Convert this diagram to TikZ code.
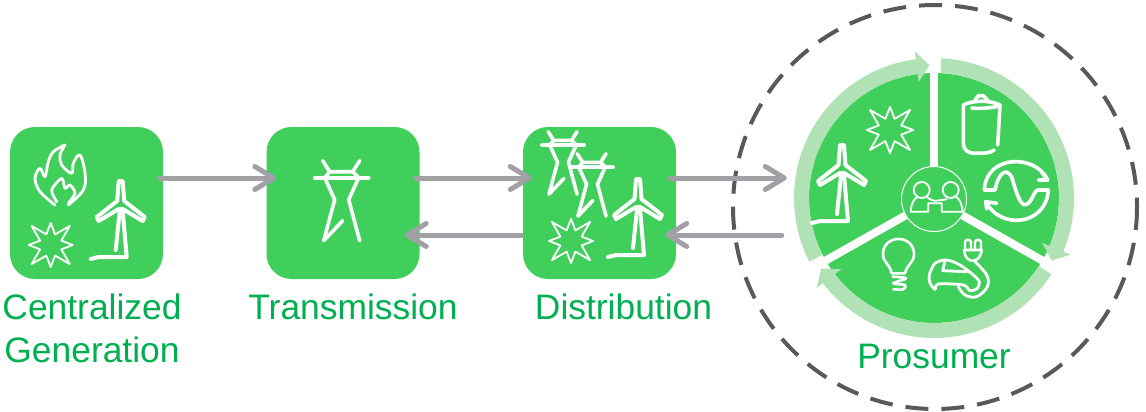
\documentclass[tikz,border=0pt]{standalone}
\usepackage{fontspec}
\setmainfont{Liberation Sans}
\usetikzlibrary{positioning, arrows.meta}
\definecolor{stagegreen}{HTML}{41CF5C}
\definecolor{ringgreen}{HTML}{B0E2B5}
\definecolor{labelgreen}{HTML}{00B050}
\definecolor{flowgray}{HTML}{A0A0A5}
\definecolor{dashgray}{HTML}{595959}
\tikzstyle{stagebox} = [rectangle, rounded corners=25pt, minimum width=153pt, minimum height=152pt, inner sep=0pt, fill=stagegreen]
\tikzstyle{stagelabel} = [text=labelgreen, align=center, inner sep=0pt, font=\fontsize{35.4}{43}\selectfont]
\tikzstyle{flow} = [draw=flowgray, line width=5pt, line cap=round, -{Straight Barb[length=19pt, width=23pt, round]}]
\tikzstyle{iconline} = [draw=white, line width=3.6pt, line cap=round, line join=round]
\tikzstyle{iconthin} = [draw=white, line width=1.8pt, line cap=round, line join=round]
\tikzstyle{spoke} = [draw=white, line width=8pt]
\tikzset{
  declare function={burst(\t)=(mod(\t,2)==1?11.5:(mod(\t,4)==0?22:27));},
  turbine/.pic={
    \draw[iconline, line width=4pt] (-2,-27)--(2,-27)--(3.5,-7)--(24,9)--(22,13)--(2,1)--(-2,1)--(-22,13)--(-24,9)--(-3.5,-7)--cycle;
    \draw[iconline, line width=4pt] (-1,3)--(-5,42);
    \draw[iconline, line width=4pt] (2,3)--(6,49)--(-22,49)--(-30,51);
  },
  sunburst/.pic={
    \draw[iconthin] plot[samples at={0,...,15}] ({burst(\x)*cos(\x*22.5)},{burst(\x)*sin(\x*22.5)}) -- cycle;
  },
  pylon/.pic={
    \draw[iconline] (-27,0)--(27,0);
    \draw[iconline] (-19,-17)--(-12,-6)--(11,-6)--(18,-17);
    \draw[iconline] (-12,-6)--(-17,0)--(-7,22)--(-18,63)--(1,43);
    \draw[iconline] (11,-6)--(17,0)--(7,22)--(18,63);
  }
}
\begin{document}
\begin{tikzpicture}[x=1pt, y=-1pt, node distance=256.5pt]
\useasboundingbox (0,0) rectangle (1146,412);

\node (cg) [stagebox] at (86.5,203) {};
\node (trans) [stagebox, right of=cg] {};
\node (dist) [stagebox, right of=trans] {};

\draw[dashgray, line width=4pt, dash pattern=on 23pt off 13pt] (935,207) circle (202);

\node (disk) [circle, fill=stagegreen, minimum size=250pt, inner sep=0pt] at (934,198) {};
% ring segments
\foreach \a in {0,120,240} {
  \fill[ringgreen] plot[domain=207:97.5, samples=40] ({934+140*cos(\x-\a)},{198-140*sin(\x-\a)})
    -- ({934+148*cos(97.5-\a)},{198-148*sin(97.5-\a)})
    -- ({934+133*cos(92-\a)},{198-133*sin(92-\a)})
    -- ({934+117*cos(97.5-\a)},{198-117*sin(97.5-\a)})
    -- ({934+125*cos(97.5-\a)},{198-125*sin(97.5-\a)})
    -- plot[domain=97.5:207, samples=40] ({934+125*cos(\x-\a)},{198-125*sin(\x-\a)}) -- cycle;
}
\coordinate (topend) at (934,63);
\coordinate (rightend) at (1052,266);
\coordinate (leftend) at (816,266);
\node (hub) [circle, fill=stagegreen, draw=white, line width=1pt, minimum size=65pt, inner sep=0pt] at (934,199) {};
\draw[spoke] (hub.90) -- (topend);
\draw[spoke] (hub.-30) -- (rightend);
\draw[spoke] (hub.210) -- (leftend);

% icons
\draw[iconline, line width=2.8pt] plot[smooth, tension=.6] coordinates {(55,205) (40,191.7) (35,178.3) (40,168.3) (45,176.7) (48.3,161.7) (53.3,151.7) (65,145)};
\draw[iconline, line width=2.8pt] plot[smooth, tension=.6] coordinates {(65,145) (60,155) (61.7,165) (71.7,173.3) (73.3,163.3) (80,155) (85,173.3) (83.3,190) (68.3,205)};
\draw[iconline, line width=2.8pt] plot[smooth, tension=.5] coordinates {(56.7,201.7) (51.7,190) (61.7,178.3) (65,188.3) (70,185) (75,193.3) (68.3,203.3)};
\pic at (120.7,208) {turbine};
\pic at (50.7,245) {sunburst};
\pic at (341.7,177.7) {pylon};
\pic[scale=.78] at (563,145) {pylon};
\pic[scale=.78] at (592,167) {pylon};
\pic at (638,206) {turbine};
\pic at (571,241) {sunburst};
\pic at (842,172) {turbine};
\pic[scale=1.05] at (890,130) {sunburst};
% battery
\draw[iconline] (997.7,145) -- (1000,105) .. controls (990,100) and (973,100) .. (963.3,105) -- (963.3,143) .. controls (963.3,150) and (968,153.3) .. (975,153.3) .. controls (985,153.3) and (990,153) .. (994.3,150);
\draw[iconline] (971.7,108) .. controls (980,109) and (988,108) .. (996.7,106.7);
\draw[iconline] (975,100) -- (978.3,95.7) -- (983.3,95.7) -- (988.3,101);
% sine
\draw[iconline] (984.3,190) .. controls (986,154) and (1036,154) .. (1047.7,180);
\draw[iconline] (1041.7,172.3) -- (1047.7,180) -- (1038.3,180);
\draw[iconline] (1048.3,190) .. controls (1046,226) and (1000,230) .. (985.7,201.7);
\draw[iconline] (986.7,209) -- (985.7,201.7) -- (996.7,203.3);
\draw[iconline] (984.3,190) -- (995,190) .. controls (999,170) and (1008,168) .. (1012,178) .. controls (1017,195) and (1021,208) .. (1027,204) .. controls (1032,202) and (1034,190) .. (1038.3,190) -- (1048.3,190);
% people
\draw[iconthin] (921.7,190) circle (8);
\draw[iconthin] (950.7,190) circle (8);
\draw[iconthin] (918.3,196.7) .. controls (913.3,198.3) and (911,205) .. (910.7,211.7) -- (928.3,211.7) -- (928.3,203.3) -- (941.7,203.3) -- (941.7,211.7) -- (962.7,211.7) .. controls (962,205) and (960,198.3) .. (955,196);
\draw[iconthin] (926.7,196.7) .. controls (930,200) and (934,201) .. (936.7,200.7) -- (946.7,199.3);
% bulb
\draw[iconline, line width=2.6pt] (891.7,273.3) .. controls (890,264) and (883,263) .. (883,254) .. controls (883,234) and (914,234) .. (914,254) .. controls (914,263) and (907,264) .. (905,273.3) -- cycle;
\draw[iconline, line width=2.6pt] plot[smooth, tension=.6] coordinates {(892.7,276.7) (906,278.3) (893.3,283.3) (905,285) (903.3,289.3) (893.3,289.3)};
% car
\draw[iconline, line width=2.8pt] plot[smooth cycle, tension=.5] coordinates {(930,283) (929.3,275) (935,263.3) (946.7,260) (960,265) (973.3,275) (979.3,281.7) (977.3,288.3) (970,290.7) (963.3,285) (938.3,284) (935,289.3)};
\draw[iconline, line width=2.8pt] (945,260.7) -- (942.7,270.7) -- (966.7,271.7);
\draw[iconline, line width=2.8pt] plot[smooth, tension=.6] coordinates {(975,261.7) (986.7,275) (987.3,286.7) (976.7,296.7) (965,295) (958.3,286.7)};
\draw[iconline, line width=2.6pt] (964,250) -- (981.7,250) .. controls (981,257) and (977,260.7) .. (972.7,260.7) .. controls (968,260.7) and (964.5,257) .. (964,250);
\draw[iconline, line width=2.4pt] (965,250) -- (965,242) .. controls (966,239) and (970,239) .. (971,242) -- (971,250);
\draw[iconline, line width=2.4pt] (975,250) -- (975,242) .. controls (976,239) and (980,239) .. (981,242) -- (981,250);

\draw[flow] ([shift={(-3,-25)}]cg.east) -- ([shift={(10,-25)}]trans.west);
\draw[flow] ([shift={(-4,-25)}]trans.east) -- ([shift={(9,-25)}]dist.west);
\draw[flow] ([shift={(-6,-25)}]dist.east) -- ([shift={(-22,-20)}]disk.west);
\draw[flow] ([shift={(-1,32)}]dist.west) -- ([shift={(-15,32)}]trans.east);
\draw[flow] ([shift={(-27,37)}]disk.west) -- ([shift={(-11,32)}]dist.east);

\node (cglabel) [stagelabel, below=14pt of cg, xshift=5.5pt] {Centralized\\Generation};
\node (translabel) [stagelabel, below=14pt of trans, xshift=10pt] {Transmission};
\node (distlabel) [stagelabel, below=14pt of dist, xshift=24pt] {Distribution};
\node (prolabel) [stagelabel, below=21pt of disk] {Prosumer};
\end{tikzpicture}
\end{document}
